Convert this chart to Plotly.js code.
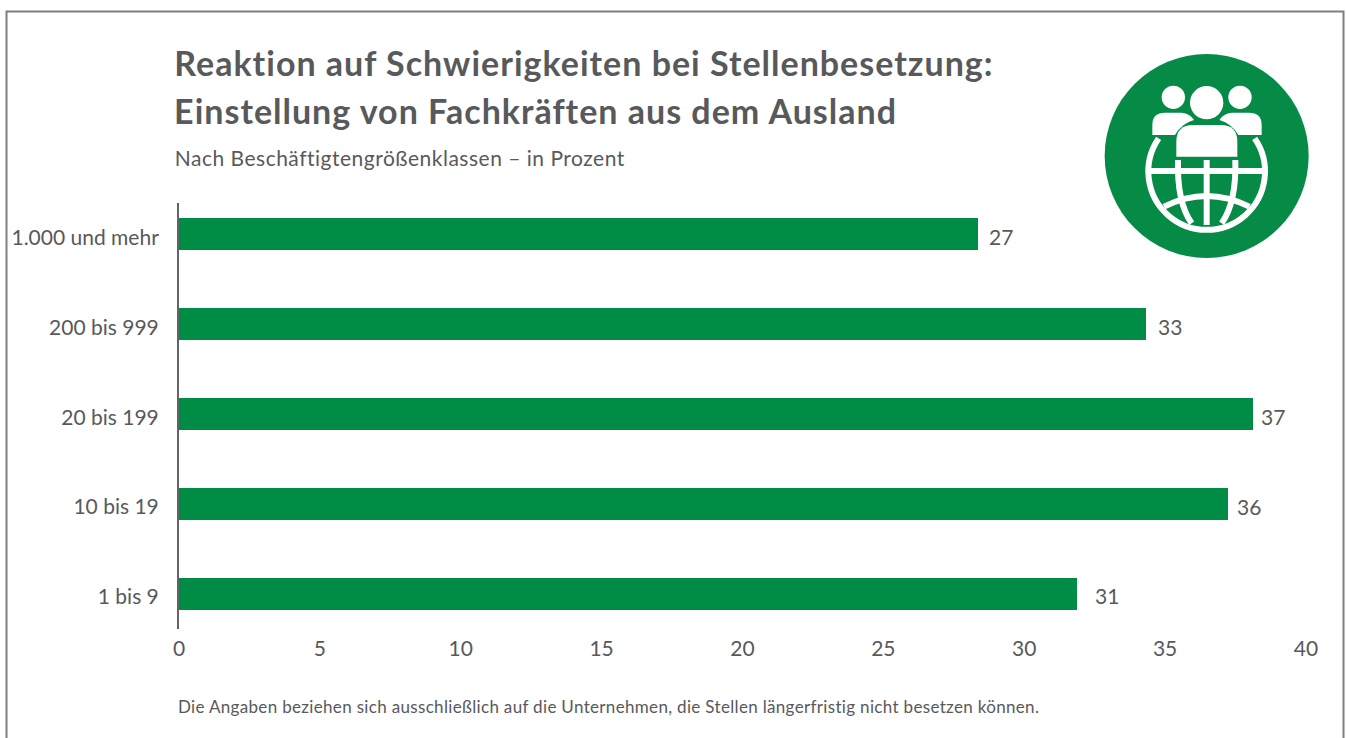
<!DOCTYPE html>
<html><head><meta charset="utf-8">
<script src="https://cdn.plot.ly/plotly-3.0.1.min.js"></script>
<style>html,body{margin:0;padding:0;background:#fff}#chart{width:1346px;height:738px}
.annotation[data-index="5"] text,.annotation[data-index="6"] text{letter-spacing:1px}
.annotation[data-index="7"] text{letter-spacing:.5px}
.annotation[data-index="8"] text{letter-spacing:.33px}
</style>
</head><body><div id="chart"></div>
<script>
const categories = ['1 bis 9','10 bis 19','20 bis 199','200 bis 999','1.000 und mehr'];
const barValues = [31.87,37.23,38.12,34.33,28.36];
const labelTexts = ['31','36','37','33','27'];
const labelGaps = [16,7,6,10,9];
const xTicks = [0,5,10,15,20,25,30,35,40];
const titleLines = ['Reaktion auf Schwierigkeiten bei Stellenbesetzung:','Einstellung von Fachkräften aus dem Ausland'];
const subtitleText = 'Nach Beschäftigtengrößenklassen – in Prozent';
const footnoteText = 'Die Angaben beziehen sich ausschließlich auf die Unternehmen, die Stellen längerfristig nicht besetzen können.';

const W=1346,H=738,L=179,R=1306,T=203,B=629;
const px=x=>(x-L)/(R-L), py=y=>(B-y)/(B-T);
const TXT='#58595b',GREEN='#008c44',FONT='Lato, sans-serif';

const icon = `<svg xmlns="http://www.w3.org/2000/svg" viewBox="0 -30 720 660" width="720" height="660">
<circle cx="350" cy="288" r="306" fill="#058b45"/>
<g fill="#fff"><circle cx="250" cy="112" r="35"/><circle cx="450" cy="112" r="35"/><circle cx="350" cy="128" r="50"/>
<path d="M187 225V195Q187 158 225 158H275Q300 160 312 180Q275 190 255 225Z"/>
<path d="M515 225V195Q515 158 477 158H425Q400 160 388 180Q425 190 445 225Z"/>
<path d="M259 290V245Q259 195 310 195H392Q442 195 442 245V290Z"/></g>
<g fill="none" stroke="#fff" stroke-width="18">
<path d="M206 235A175 175 0 1 0 494 235"/><path d="M180 333H520"/><path d="M350 300V495"/>
<path d="M264 300C262 370 270 440 305 490"/><path d="M436 300C438 370 430 440 395 490"/>
<path d="M222 440Q350 376 478 440"/></g></svg>`;

const trace = {type:'bar',orientation:'h',y:categories,x:barValues,width:0.356,
  marker:{color:GREEN,line:{width:0}},hoverinfo:'skip'};

const anns = categories.map((c,i)=>({x:barValues[i],y:c,xref:'x',yref:'y',text:labelTexts[i],showarrow:false,
  xanchor:'left',yanchor:'middle',xshift:labelGaps[i],yshift:-2,font:{family:FONT,size:21,color:TXT}}));
// letter-spacing widens the text around its centre, so half of the extra width is added back to the left edge
const noteAnn=(text,x,y,size,weight,spacing)=>({xref:'paper',yref:'paper',x:px(x+text.length*spacing/2),y:py(y),xanchor:'left',yanchor:'middle',showarrow:false,
  text:text,font:{family:FONT,size:size,weight:weight,color:TXT}});
anns.push(noteAnn(titleLines[0],172,63,34,700,1));
anns.push(noteAnn(titleLines[1],172,110,34,700,1));
anns.push(noteAnn(subtitleText,173,158,21,400,.5));
anns.push(noteAnn(footnoteText,176,706,17,400,.33));

const layout = {
  width:W,height:H,paper_bgcolor:'#fff',plot_bgcolor:'#fff',showlegend:false,bargap:0,
  margin:{l:L,r:W-R,t:T,b:H-B,pad:0},
  font:{family:FONT,color:TXT},
  xaxis:{range:[0,40],tickvals:xTicks,ticktext:xTicks.map(String),showgrid:false,zeroline:false,showline:false,
    ticks:'outside',ticklen:1,tickcolor:'rgba(0,0,0,0)',tickwidth:0,tickfont:{family:FONT,size:21,color:TXT},automargin:false},
  yaxis:{type:'category',categoryorder:'array',categoryarray:categories,range:[-0.39,4.35],showgrid:false,zeroline:false,
    showline:true,linecolor:'#636466',linewidth:2,ticks:'outside',ticklen:14,tickcolor:'rgba(0,0,0,0)',tickwidth:0,
    ticklabelshift:3,tickfont:{family:FONT,size:21,color:TXT},automargin:false},
  annotations:anns,
  shapes:[{type:'path',xref:'paper',yref:'paper',layer:'above',
    path:`M ${px(6.5)} ${py(738)} L ${px(6.5)} ${py(11.5)} L ${px(1343.5)} ${py(11.5)} L ${px(1343.5)} ${py(738)}`,
    line:{color:'#7f7f7f',width:2}}],
  images:[{source:'data:image/svg+xml;charset=utf-8,'+encodeURIComponent(icon),xref:'paper',yref:'paper',
    x:px(1090),y:py(50),sizex:240/(R-L),sizey:220/(B-T),xanchor:'left',yanchor:'top',sizing:'stretch',layer:'above'}]
};
Plotly.newPlot('chart',[trace],layout,{displayModeBar:false,staticPlot:true});
</script></body></html>
